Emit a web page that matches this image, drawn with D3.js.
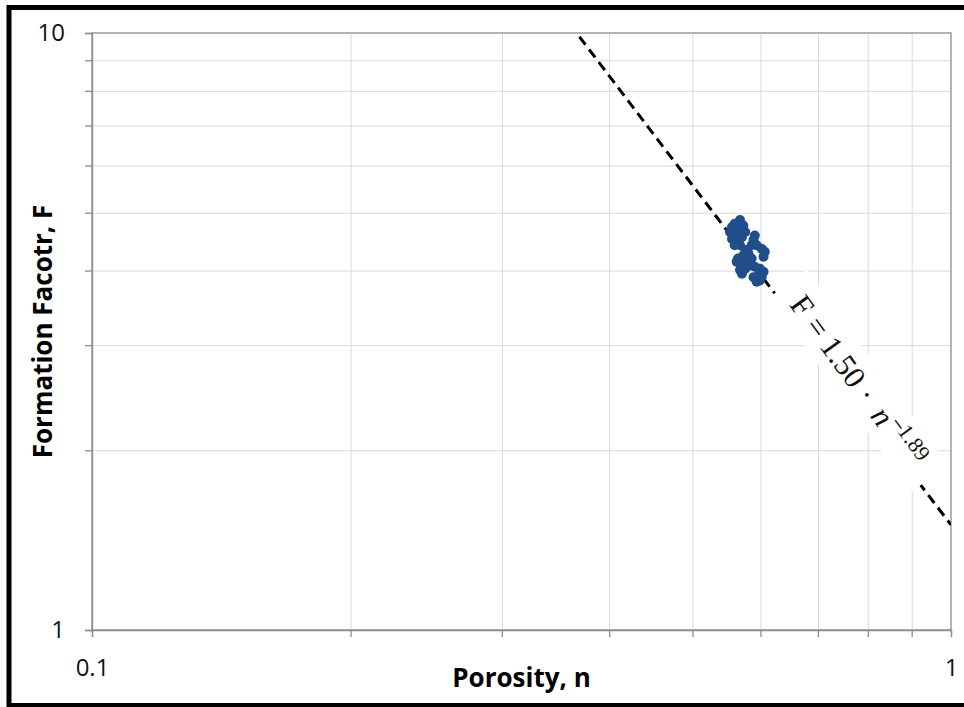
<!DOCTYPE html>
<html>
<head>
<meta charset="utf-8">
<script src="https://cdn.jsdelivr.net/npm/d3@7"></script>
<style>
  html, body { margin: 0; padding: 0; background: #fff; }
  svg { display: block; }
</style>
</head>
<body>
<div id="chart"></div>
<script>
// measured samples: porosity n and formation factor F
const porosity = [
  0.568, 0.560, 0.556, 0.573, 0.553, 0.560, 0.568, 0.576, 0.556, 0.563,
  0.571, 0.560, 0.568, 0.591, 0.589, 0.586, 0.594, 0.602, 0.607, 0.605,
  0.576, 0.581, 0.573, 0.565, 0.563, 0.571, 0.578, 0.586, 0.568, 0.576,
  0.583, 0.591, 0.599, 0.605, 0.597, 0.589, 0.594, 0.599, 0.602, 0.571
];
const formationFactor = [
  4.86, 4.79, 4.73, 4.76, 4.64, 4.64, 4.67, 4.64, 4.52, 4.50,
  4.55, 4.41, 4.41, 4.58, 4.50, 4.41, 4.41, 4.35, 4.30, 4.22,
  4.33, 4.27, 4.24, 4.19, 4.14, 4.11, 4.16, 4.19, 4.01, 4.03,
  4.08, 4.06, 4.03, 3.98, 3.93, 3.90, 3.83, 3.85, 3.90, 3.95
];

// power-law trendline F = a * n^b (straight on log-log axes)
const trendA = 1.50;
const trendB = -1.89;
const trendRange = [0.3, 1.0];

const xTicks = [0.1, 0.2, 0.3, 0.4, 0.5, 0.6, 0.7, 0.8, 0.9, 1];
const yTicks = [1, 2, 3, 4, 5, 6, 7, 8, 9, 10];
const xLabelled = [0.1, 1];
const yLabelled = [1, 10];

const xTitle = "Porosity, n";
const yTitle = "Formation Facotr, F";

// where the equation label sits (data coords)
const labelAt = { n: 0.7814, F: 2.613 };

(function () {
  const W = 964, H = 707;
  const margin = { top: 33, right: 13, bottom: 77, left: 92 };
  const innerWidth = W - margin.left - margin.right;
  const innerHeight = H - margin.top - margin.bottom;

  const svg = d3.select("#chart").append("svg")
    .attr("width", W)
    .attr("height", H)
    .attr("viewBox", `0 0 ${W} ${H}`);

  // picture frame
  svg.append("rect")
    .attr("x", 9).attr("y", 7.5)
    .attr("width", 1000).attr("height", 698)
    .attr("fill", "none")
    .attr("stroke", "#000")
    .attr("stroke-width", 5);

  const g = svg.append("g")
    .attr("transform", `translate(${margin.left},${margin.top})`);

  const x = d3.scaleLog().domain([0.1, 1]).range([0, innerWidth]);
  const y = d3.scaleLog().domain([1, 10]).range([innerHeight, 0]);

  // gridlines
  g.append("g")
    .attr("class", "grid")
    .attr("transform", `translate(0,${innerHeight})`)
    .call(d3.axisBottom(x).tickValues(xTicks.slice(1, -1)).tickSize(-innerHeight).tickFormat(""))
    .call(s => s.select(".domain").remove())
    .selectAll("line").attr("stroke", "#d9d9d9").attr("stroke-width", 1);

  g.append("g")
    .attr("class", "grid")
    .call(d3.axisLeft(y).tickValues(yTicks.slice(1, -1)).tickSize(-innerWidth).tickFormat(""))
    .call(s => s.select(".domain").remove())
    .selectAll("line").attr("stroke", "#d9d9d9").attr("stroke-width", 1);

  // plot border
  g.append("rect")
    .attr("width", innerWidth).attr("height", innerHeight)
    .attr("fill", "none")
    .attr("stroke", "#8c8c8c")
    .attr("stroke-width", 1.3);

  const fmt = d3.format("~g");

  const xAxis = g.append("g")
    .attr("transform", `translate(0,${innerHeight})`)
    .call(d3.axisBottom(x).tickValues(xTicks).tickSize(7).tickPadding(22)
      .tickFormat(d => xLabelled.includes(d) ? fmt(d) : ""));

  const yAxis = g.append("g")
    .call(d3.axisLeft(y).tickValues(yTicks).tickSize(7).tickPadding(20)
      .tickFormat(d => yLabelled.includes(d) ? fmt(d) : ""));

  [xAxis, yAxis].forEach(a => {
    a.select(".domain").attr("stroke", "#8c8c8c").attr("stroke-width", 1.3);
    a.selectAll(".tick line").attr("stroke", "#8c8c8c").attr("stroke-width", 1.3);
    a.selectAll(".tick text")
      .attr("fill", "#111")
      .style("font-family", "'Open Sans', sans-serif")
      .style("font-size", "24px");
  });

  // trendline, clipped to plot area
  svg.append("clipPath").attr("id", "plotClip")
    .append("rect").attr("width", innerWidth).attr("height", innerHeight);

  const trendData = trendRange.map(n => ({ n, F: trendA * Math.pow(n, trendB) }));

  g.append("path")
    .datum(trendData)
    .attr("clip-path", "url(#plotClip)")
    .attr("fill", "none")
    .attr("stroke", "#000")
    .attr("stroke-width", 3)
    .attr("stroke-dasharray", "10,6")
    .attr("d", d3.line().x(d => x(d.n)).y(d => y(d.F)));

  // points
  const data = porosity.map((n, i) => ({ n, F: formationFactor[i] }));
  g.selectAll("circle.pt")
    .data(data)
    .join("circle")
    .attr("class", "pt")
    .attr("cx", d => x(d.n))
    .attr("cy", d => y(d.F))
    .attr("r", 5)
    .attr("fill", "#1f4e8a");

  // equation label on white box
  const lab = g.append("g")
    .attr("transform", `translate(${x(labelAt.n)},${y(labelAt.F)}) rotate(54)`);

  lab.append("rect")
    .attr("x", -120.5).attr("y", -23)
    .attr("width", 241).attr("height", 46)
    .attr("fill", "#fff");

  const pieces = [
    { s: "F", x: -94.3, y: 12.1, size: 31, anchor: "middle" },
    { s: "=", x: -67.9, y: 12.1, size: 31, anchor: "middle" },
    { s: "1.50", x: -24.7, y: 12.1, size: 31, anchor: "middle" },
    { s: "·", x: 16, y: 12.1, size: 31, anchor: "middle" },
    { s: "n", x: 42.3, y: 12.1, size: 31, anchor: "middle", italic: true },
    { s: "1.89", x: 63, y: -1, size: 22, anchor: "start" }
  ];

  lab.selectAll("text.eq")
    .data(pieces)
    .join("text")
    .attr("class", "eq")
    .attr("x", d => d.x)
    .attr("y", d => d.y)
    .attr("text-anchor", d => d.anchor)
    .style("font-family", "'Liberation Serif', 'Times New Roman', serif")
    .style("font-size", d => d.size + "px")
    .style("font-style", d => d.italic ? "italic" : "normal")
    .attr("fill", "#111")
    .text(d => d.s);

  // superscript minus sign, drawn wide like a math minus
  lab.append("text")
    .attr("x", 51)
    .attr("y", -1)
    .style("font-family", "'DejaVu Sans', sans-serif")
    .style("font-size", "17px")
    .attr("fill", "#111")
    .text("−");

  // axis titles
  g.append("text")
    .attr("x", innerWidth / 2)
    .attr("y", innerHeight + 57)
    .attr("text-anchor", "middle")
    .style("font-family", "'Open Sans', sans-serif")
    .style("font-weight", "bold")
    .style("font-size", "26px")
    .attr("fill", "#000")
    .text(xTitle);

  g.append("text")
    .attr("transform", `translate(${52 - margin.left},${innerHeight / 2}) rotate(-90)`)
    .attr("text-anchor", "middle")
    .style("font-family", "'Open Sans', sans-serif")
    .style("font-weight", "bold")
    .style("font-size", "26px")
    .attr("fill", "#000")
    .text(yTitle);
})();
</script>
</body>
</html>
